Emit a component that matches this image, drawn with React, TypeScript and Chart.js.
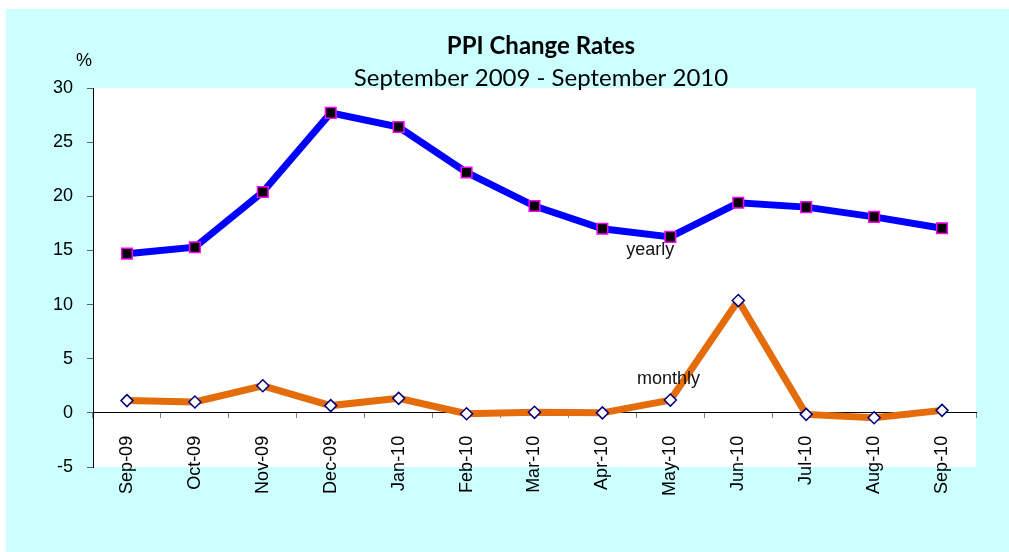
import React, { useEffect, useRef } from "react";
import { Chart, registerables } from "chart.js";

Chart.register(...registerables);

const categories = ["Sep-09", "Oct-09", "Nov-09", "Dec-09", "Jan-10", "Feb-10", "Mar-10", "Apr-10", "May-10", "Jun-10", "Jul-10", "Aug-10", "Sep-10"];
const yearly = [14.7, 15.3, 20.4, 27.7, 26.4, 22.2, 19.1, 17.0, 16.25, 19.4, 19.0, 18.1, 17.05];
const monthly = [1.13, 1.0, 2.5, 0.67, 1.34, -0.08, 0.05, 0.0, 1.18, 10.37, -0.14, -0.45, 0.23];
const yTicks = { min: -5, max: 30, step: 5 };
const titleText = "PPI Change Rates";
const subtitleText = "September 2009 - September 2010";
const unitText = "%";
const seriesLabels = [
  { text: "yearly", x: 7.35, y: 14.55 },
  { text: "monthly", x: 7.51, y: 2.7 },
];

const tickFont = { family: "'Liberation Sans', Arial, sans-serif", size: 18 };

const decorPlugin = {
  id: "decor",
  beforeDraw(chart: any) {
    const { ctx, width, height, chartArea } = chart;
    ctx.save();
    ctx.fillStyle = "#ffffff";
    ctx.fillRect(0, 0, width, height);
    ctx.fillStyle = "#CCFFFF";
    ctx.fillRect(6, 9, width - 6, height - 9);
    ctx.fillStyle = "#ffffff";
    ctx.fillRect(chartArea.left, chartArea.top, chartArea.right - chartArea.left, chartArea.bottom - chartArea.top);
    ctx.restore();
  },
  afterDraw(chart: any) {
    const { ctx, chartArea } = chart;
    const xs = chart.scales.x;
    const ys = chart.scales.y;
    ctx.save();
    ctx.fillStyle = "#000";
    ctx.textAlign = "center";
    ctx.textBaseline = "alphabetic";
    ctx.font = "bold 24px Lato, 'Open Sans', sans-serif";
    ctx.fillText(titleText, 541, 54);
    ctx.font = "24px Lato, 'Open Sans', sans-serif";
    ctx.fillText(subtitleText, 541, 86);
    ctx.font = "18px 'Liberation Sans', Arial, sans-serif";
    ctx.textAlign = "right";
    ctx.fillText(unitText, chartArea.left - 1, 66);
    ctx.textAlign = "left";
    ctx.fillStyle = "#111";
    for (const l of seriesLabels) {
      ctx.fillText(l.text, xs.getPixelForValue(l.x), ys.getPixelForValue(l.y));
    }
    ctx.restore();
  },
};

export default function App() {
  const ref = useRef<HTMLCanvasElement | null>(null);
  useEffect(() => {
    if (!ref.current) return;
    const chart = new Chart(ref.current, {
      type: "line",
      data: {
        labels: categories,
        datasets: [
          {
            label: "yearly",
            data: yearly,
            borderColor: "#0000FF",
            borderWidth: 7,
            pointStyle: "rect",
            pointRadius: 7.5,
            pointBackgroundColor: "#000000",
            pointBorderColor: "#FF00FF",
            pointBorderWidth: 1.5,
            tension: 0,
            fill: false,
          },
          {
            label: "monthly",
            data: monthly,
            borderColor: "#E46C0A",
            borderWidth: 7,
            pointStyle: "rectRot",
            pointRadius: 6,
            pointBackgroundColor: "#ffffff",
            pointBorderColor: "#000080",
            pointBorderWidth: 1.5,
            tension: 0,
            fill: false,
          },
        ],
      },
      options: {
        animation: false,
        responsive: false,
        maintainAspectRatio: false,
        layout: { padding: { left: 0, right: 33, top: 88, bottom: 85 } },
        plugins: { legend: { display: false }, tooltip: { enabled: false }, title: { display: false } },
        scales: {
          x: {
            type: "category",
            position: { y: 0 } as any,
            offset: true,
            grid: { drawOnChartArea: false, offset: true, tickLength: 5, color: "#808080" },
            border: { color: "#000000", width: 1 },
            ticks: { minRotation: 90, maxRotation: 90, padding: 18, autoSkip: false, color: "#000", font: tickFont },
          },
          y: {
            min: yTicks.min,
            max: yTicks.max,
            grid: { drawOnChartArea: false, tickLength: 6, color: "#606060" },
            border: { color: "#000000", width: 1 },
            ticks: { stepSize: yTicks.step, padding: 14, color: "#000", font: tickFont },
            afterFit: (s: any) => {
              s.width = 93;
            },
          },
        },
      },
      plugins: [decorPlugin],
    });
    return () => chart.destroy();
  }, []);
  return (
    <div style={{ position: "absolute", left: 0, top: 0, width: 1009, height: 552 }}>
      <canvas ref={ref} width={1009} height={552} style={{ display: "block" }} />
    </div>
  );
}
